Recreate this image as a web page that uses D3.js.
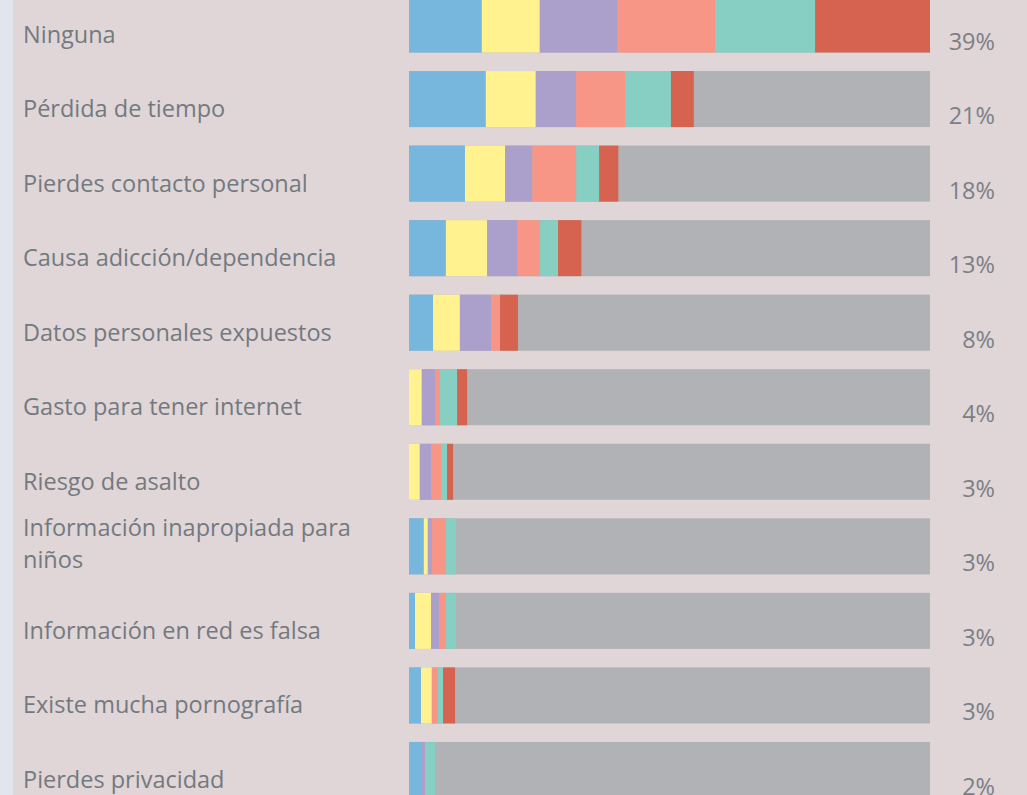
<!DOCTYPE html>
<html>
<head>
<meta charset="utf-8">
<script src="https://cdn.jsdelivr.net/npm/d3@7"></script>
<style>
  html, body { margin: 0; padding: 0; background: #e0d5d7; }
  svg { display: block; }
</style>
</head>
<body>
<svg id="chart" width="1027" height="795"></svg>
<script>
// ---- data ----
const categories = [
  "Ninguna",
  "Pérdida de tiempo",
  "Pierdes contacto personal",
  "Causa adicción/dependencia",
  "Datos personales expuestos",
  "Gasto para tener internet",
  "Riesgo de asalto",
  "Información inapropiada para\nniños",
  "Información en red es falsa",
  "Existe mucha pornografía",
  "Pierdes privacidad"
];
const totalLabels = ["39%", "21%", "18%", "13%", "8%", "4%", "3%", "3%", "3%", "3%", "2%"];
const seriesNames = ["Grupo 1", "Grupo 2", "Grupo 3", "Grupo 4", "Grupo 5", "Grupo 6"];
const seriesColors = ["#77b7de", "#fff28f", "#ab9fcc", "#f79686", "#87cfc2", "#d5634f"];
// contribution of each group (percentage points), per category
const group1 = [5.45, 5.75, 4.19, 2.76, 1.80, 0.00, 0.00, 1.11, 0.45, 0.90, 0.90];
const group2 = [4.34, 3.74, 3.00, 3.09, 2.01, 0.96, 0.81, 0.30, 1.20, 0.81, 0.00];
const group3 = [5.78, 3.00, 2.04, 2.28, 2.34, 0.99, 0.84, 0.30, 0.60, 0.00, 0.30];
const group4 = [7.34, 3.68, 3.29, 1.68, 0.66, 0.36, 0.75, 1.05, 0.51, 0.45, 0.00];
const group5 = [7.49, 3.44, 1.71, 1.35, 0.00, 1.29, 0.45, 0.75, 0.75, 0.39, 0.75];
const group6 = [8.60, 1.71, 1.44, 1.74, 1.35, 0.75, 0.45, 0.00, 0.00, 0.90, 0.00];
const scaleMax = 39;

// ---- build ----
const groups = [group1, group2, group3, group4, group5, group6];
const rows = categories.map((c, i) => {
  const r = { cat: c, total: totalLabels[i] };
  seriesNames.forEach((s, k) => r[s] = groups[k][i]);
  return r;
});

const svg = d3.select("#chart");
const W = 1027, H = 795;

svg.append("rect").attr("x", 0).attr("y", 0).attr("width", W).attr("height", H).attr("fill", "#e0d5d7");
svg.append("rect").attr("x", 0).attr("y", 0).attr("width", 13).attr("height", H).attr("fill", "#e1e5ee");

const x = d3.scaleLinear().domain([0, scaleMax]).range([409, 930]);
const y = d3.scaleBand().domain(categories).range([-3.5, 798]).paddingInner(0.2483).paddingOuter(0);
const color = d3.scaleOrdinal().domain(seriesNames).range(seriesColors);

// gray background bars
svg.append("g").selectAll("rect").data(rows).join("rect")
  .attr("x", x(0)).attr("y", d => y(d.cat))
  .attr("width", x(scaleMax) - x(0)).attr("height", y.bandwidth())
  .attr("fill", "#b1b2b5");

const stack = d3.stack().keys(seriesNames)(rows);
svg.append("g").selectAll("g").data(stack).join("g")
  .attr("fill", d => color(d.key))
  .selectAll("rect").data(d => d).join("rect")
  .attr("x", d => x(d[0]))
  .attr("y", d => y(d.data.cat))
  .attr("width", d => Math.max(0, x(d[1]) - x(d[0])))
  .attr("height", y.bandwidth());

const font = "'Open Sans', 'Noto Sans', sans-serif";
const txtColor = "#737a7f";

// category labels
const lab = svg.append("g").selectAll("text").data(rows).join("text")
  .attr("font-family", font).attr("font-size", 23.5).attr("fill", txtColor)
  .attr("x", 23);
lab.each(function(d) {
  const lines = d.cat.split("\n");
  const cy = y(d.cat) + y.bandwidth() / 2;
  const t = d3.select(this);
  if (lines.length === 1) {
    t.attr("y", cy + 18).text(lines[0]);
  } else {
    lines.forEach((ln, j) => {
      t.append("tspan").attr("x", 23).attr("y", cy - 10 + j * 32).text(ln);
    });
  }
});

// total labels
svg.append("g").selectAll("text").data(rows).join("text")
  .attr("font-family", font).attr("font-size", 23.5).attr("fill", "#7b8085")
  .attr("text-anchor", "end")
  .attr("x", 995)
  .attr("y", d => y(d.cat) + y.bandwidth() - 3)
  .text(d => d.total);
</script>
</body>
</html>
